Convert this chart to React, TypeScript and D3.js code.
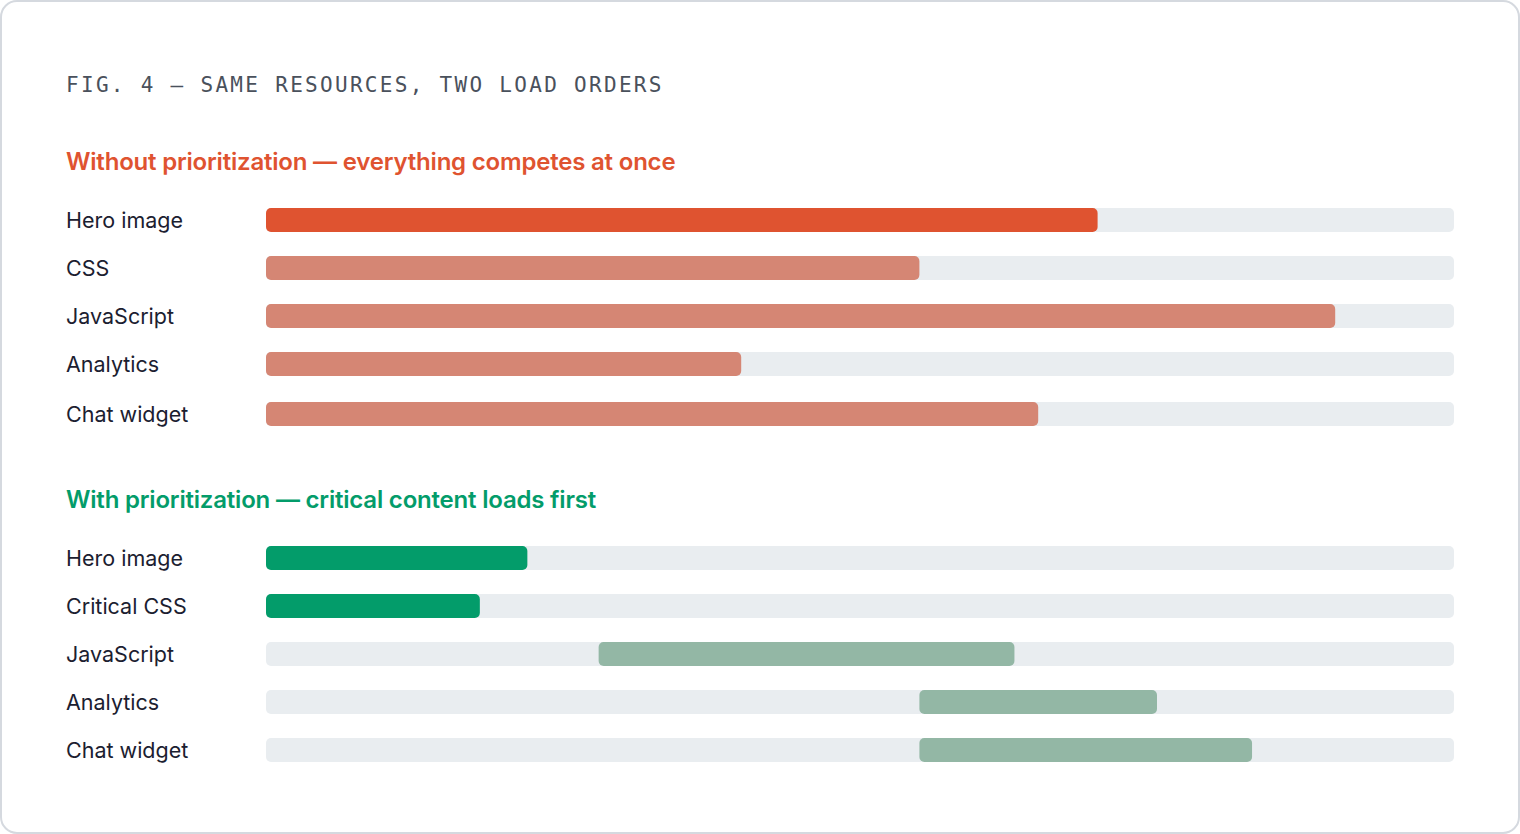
import { useEffect, useMemo } from "react";
import * as d3 from "d3";

// ── Data ──────────────────────────────────────────────────────
const W = 1520, H = 834;

const TITLE = "FIG. 4 — SAME RESOURCES, TWO LOAD ORDERS";

const beforeLabels = ["Hero image", "CSS", "JavaScript", "Analytics", "Chat widget"];
const beforeStart  = [0, 0, 0, 0, 0];
const beforeEnd    = [70, 55, 90, 40, 65];

const afterLabels  = ["Hero image", "Critical CSS", "JavaScript", "Analytics", "Chat widget"];
const afterStart   = [0, 0, 28, 55, 55];
const afterEnd     = [22, 18, 63, 75, 83];

const RED = "#df5330", RED_SOFT = "#d58674";
const GREEN = "#039c6a", GREEN_SOFT = "#93b7a5";
const TRACK = "#e9edf0";

interface Group {
  title: string;
  color: string;
  titleY: number;
  firstRow: number;
  lastGap: number;
  labels: string[];
  start: number[];
  end: number[];
  fills: string[];
}

const groups: Group[] = [
  {
    title: "Without prioritization — everything competes at once",
    color: RED, titleY: 170, firstRow: 220, lastGap: 2,
    labels: beforeLabels, start: beforeStart, end: beforeEnd,
    fills: [RED, RED_SOFT, RED_SOFT, RED_SOFT, RED_SOFT],
  },
  {
    title: "With prioritization — critical content loads first",
    color: GREEN, titleY: 508, firstRow: 558, lastGap: 0,
    labels: afterLabels, start: afterStart, end: afterEnd,
    fills: [GREEN, GREEN, GREEN_SOFT, GREEN_SOFT, GREEN_SOFT],
  },
];

const SANS = "Inter, 'Noto Sans', sans-serif";

export default function App() {
  useEffect(() => {
    document.body.style.margin = "0";
  }, []);

  const x = useMemo(() => d3.scaleLinear().domain([0, 100]).range([266, 1454]), []);
  const BAR = 24, STEP = 48;

  return (
    <svg width={W} height={H} style={{ display: "block", background: "#fff" }}>
      <rect x={1} y={1} width={W - 2} height={H - 2} rx={16}
        fill="#fff" stroke="#d5d9df" strokeWidth={2} />

      <text x={66} y={92} fontFamily="'DejaVu Sans Mono', monospace" fontSize={21}
        letterSpacing={2.3} fill="#4a515c">{TITLE}</text>

      {groups.map((g, gi) => (
        <g key={gi}>
          <text x={66} y={g.titleY} fontFamily={SANS} fontSize={24} fontWeight={600}
            letterSpacing={-0.2} fill={g.color}>{g.title}</text>
          {g.labels.map((lab, i) => {
            const cy = g.firstRow + i * STEP + (i === g.labels.length - 1 ? g.lastGap : 0);
            return (
              <g key={lab + i}>
                <text x={66} y={cy + 8} fontFamily={SANS} fontSize={21.5}
                  fill="#1b2030">{lab}</text>
                <rect x={x(0)} y={cy - BAR / 2} width={x(100) - x(0)} height={BAR}
                  rx={5} fill={TRACK} />
                <rect x={x(g.start[i])} y={cy - BAR / 2}
                  width={x(g.end[i]) - x(g.start[i])} height={BAR}
                  rx={5} fill={g.fills[i]} />
              </g>
            );
          })}
        </g>
      ))}
    </svg>
  );
}
